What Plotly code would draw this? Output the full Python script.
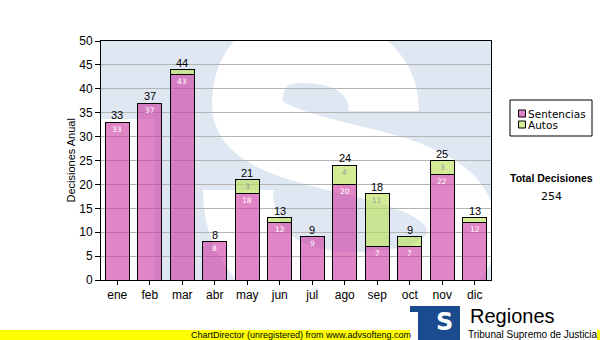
import plotly.graph_objects as go

# ---- data -------------------------------------------------------------
meses = ["ene", "feb", "mar", "abr", "may", "jun", "jul", "ago", "sep", "oct", "nov", "dic"]
sentencias = [33, 37, 43, 8, 18, 12, 9, 20, 7, 7, 22, 12]
autos = [0, 0, 1, 0, 3, 1, 0, 4, 11, 2, 3, 1]
y_ticks = list(range(0, 51, 5))

totales = [s + a for s, a in zip(sentencias, autos)]
total_decisiones = sum(totales)

# ---- page geometry (pixels) ---------------------------------------------
W, H = 600, 340
L, R, T, B = 101, 491, 41, 280

PINK = "rgba(205,60,165,0.62)"
GREEN = "rgba(186,224,86,0.62)"
ARIAL = "Arial, Liberation Sans, sans-serif"
DEJAVU = "DejaVu Sans, Verdana, sans-serif"


def px(x, y):
    """Page pixel position -> paper coordinates."""
    return (x - L) / (R - L), (B - y) / (B - T)


def bezier_path(pts):
    p = [px(*q) for q in pts]
    d = f"M{p[0][0]:.4f},{p[0][1]:.4f}"
    for i in range(1, len(p), 3):
        d += " C" + " ".join(f"{a:.4f},{b:.4f}" for a, b in p[i:i + 3])
    return d


def rect(x0, y0, x1, y1, **kw):
    a = px(x0, y0)
    b = px(x1, y1)
    return dict(type="rect", xref="paper", yref="paper",
                x0=a[0], y0=a[1], x1=b[0], y1=b[1], **kw)


def label(x, y, text, size, color="black", family=ARIAL, xanchor="center", bold=False):
    xp, yp = px(x, y)
    return dict(xref="paper", yref="paper", x=xp, y=yp, text=f"<b>{text}</b>" if bold else text,
                showarrow=False, xanchor=xanchor, yanchor="middle",
                font=dict(family=family, size=size, color=color))


fig = go.Figure()
fig.add_bar(x=meses, y=sentencias, name="Sentencias",
            marker=dict(color=PINK, line=dict(color="black", width=1)))
fig.add_bar(x=meses, y=autos, name="Autos",
            marker=dict(color=GREEN, line=dict(color="black", width=1)))

# ---- watermark "S" behind the bars -------------------------------------
s_curve = [(384, 111),
           (384, 70), (350, 48), (300, 48),
           (262, 48), (247, 75), (247, 105),
           (247, 135), (300, 148), (360, 162),
           (430, 178), (462, 198), (462, 232),
           (462, 268), (420, 287), (350, 287),
           (280, 287), (238, 250), (238, 190)]
shapes = [
    rect(L, 119, 154, B, layer="below", fillcolor="white", line=dict(width=0)),
    dict(type="path", xref="paper", yref="paper", layer="below",
         path=bezier_path(s_curve), line=dict(color="white", width=70)),
]

# ---- legend box -----------------------------------------------------------
shapes += [
    rect(510, 100, 592, 136, fillcolor="white", line=dict(color="black", width=1)),
    rect(518.5, 110, 525.5, 117, fillcolor="#e080c8", line=dict(color="black", width=1)),
    rect(518.5, 121, 525.5, 128, fillcolor="#d4ec96", line=dict(color="black", width=1)),
]

# ---- footer: yellow band and logo ----------------------------------------
shapes += [
    rect(0, 330, W, H, fillcolor="#ffff00", line=dict(width=0)),
    rect(410, 300, 597, H, fillcolor="white", line=dict(width=0)),
    rect(410, 306, 428, 312, fillcolor="#1b4b8e", line=dict(width=0)),
    rect(418, 306, 428, H, fillcolor="#1b4b8e", line=dict(width=0)),
    rect(428, 306, 460, H, fillcolor="#1b4b8e", line=dict(width=0)),
]

annotations = []
# totals on top of each stack
for m, t in zip(meses, totales):
    annotations.append(dict(x=m, y=t, xref="x", yref="y", text=str(t), showarrow=False,
                            yanchor="middle", yshift=7,
                            font=dict(family=ARIAL, size=11, color="black")))
# segment values inside the bars
for m, s, a in zip(meses, sentencias, autos):
    annotations.append(dict(x=m, y=s, xref="x", yref="y", text=str(s), showarrow=False,
                            yanchor="middle", yshift=-7,
                            font=dict(family=DEJAVU, size=7.5, color="white")))
    if a >= 3:
        annotations.append(dict(x=m, y=s + a, xref="x", yref="y", text=str(a), showarrow=False,
                                yanchor="middle", yshift=-7,
                                font=dict(family=DEJAVU, size=7.5, color="#9c9c9c")))

xp, _ = px(70, 0)
annotations.append(dict(xref="paper", yref="paper", x=xp, y=0.5, text="Decisiones Anual",
                        textangle=-90, showarrow=False, xanchor="center", yanchor="middle",
                        font=dict(family=ARIAL, size=11, color="black")))

annotations += [
    label(526, 113.5, "Sentencias", 10.5, family=DEJAVU, xanchor="left"),
    label(526, 124.5, "Autos", 10.5, family=DEJAVU, xanchor="left"),
    label(551, 178, "Total Decisiones", 10.5, bold=True),
    label(551, 196, str(total_decisiones), 11, family=DEJAVU),
    label(444, 322, "<b>S</b>", 24, color="white", family=DEJAVU),
    label(468, 316, "Regiones", 20, xanchor="left"),
    label(466, 334, "Tribunal Supremo de Justicia", 10, xanchor="left"),
    label(189, 335, "ChartDirector (unregistered) from www.advsofteng.com", 9, xanchor="left"),
]

fig.update_layout(
    width=W, height=H,
    margin=dict(l=L, r=W - R, t=T, b=H - B, pad=0),
    barmode="stack", bargap=0.26,
    showlegend=False,
    paper_bgcolor="white", plot_bgcolor="#dfe8f2",
    font=dict(family=ARIAL, size=12, color="black"),
    shapes=shapes, annotations=annotations,
)
fig.update_xaxes(showline=True, linecolor="black", linewidth=1, mirror=True,
                 ticks="outside", ticklen=4, tickcolor="black",
                 tickfont=dict(family=ARIAL, size=12, color="black"), showgrid=False)
fig.update_yaxes(range=[0, 50], tickvals=y_ticks, showline=True, linecolor="black", linewidth=1,
                 mirror=True, ticks="outside", ticklen=5, tickcolor="black",
                 gridcolor="#b4b4b4", gridwidth=1, zeroline=False,
                 tickfont=dict(family=ARIAL, size=12, color="black"))

fig.write_html("out.html")
